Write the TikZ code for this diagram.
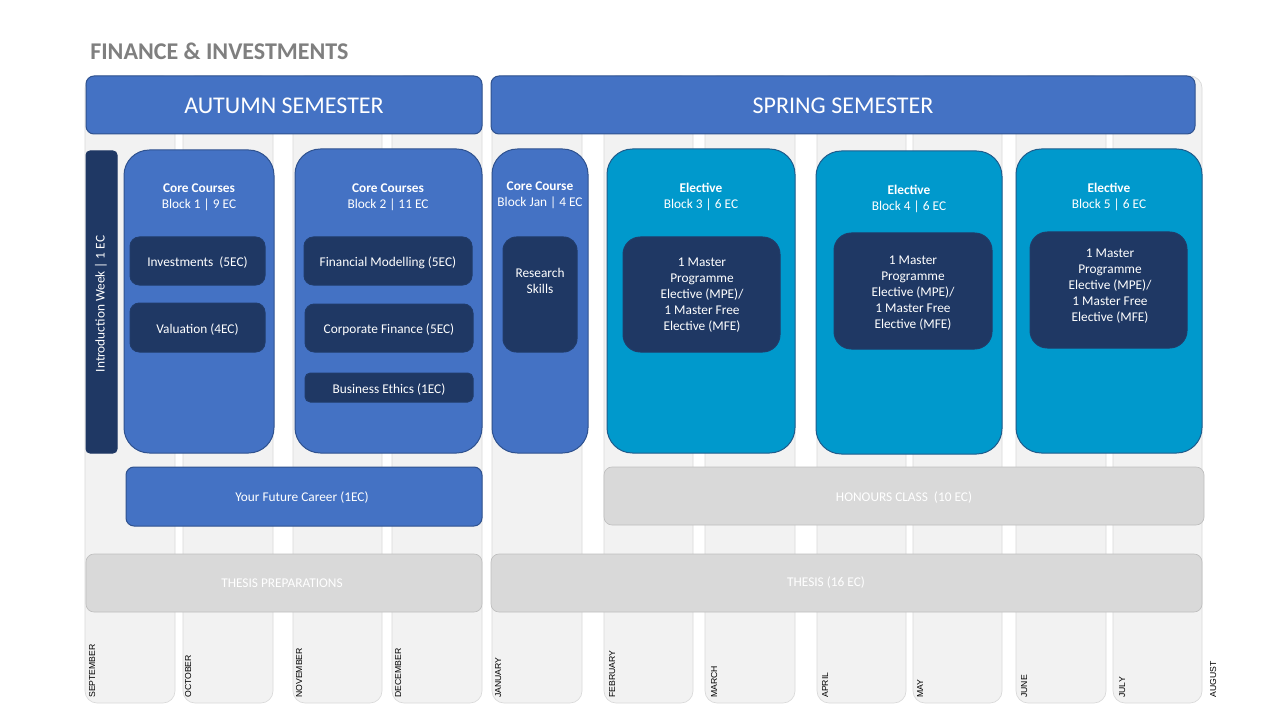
\documentclass[tikz,border=0pt]{standalone}
\usepackage{fontspec}
\setmainfont{Carlito}
\newfontfamily\monthfont{Liberation Sans}
\usetikzlibrary{fit}
\definecolor{cblue}{HTML}{4472C4}
\definecolor{cblueb}{HTML}{2F528F}
\definecolor{cnavy}{HTML}{1F3864}
\definecolor{ccyan}{HTML}{0099CC}
\definecolor{ccyanb}{HTML}{1F5C8C}
\definecolor{cgrey}{HTML}{D9D9D9}
\definecolor{cgreyb}{HTML}{BFBFBF}
\definecolor{ccol}{HTML}{F2F2F2}
\definecolor{ccolb}{HTML}{D9D9D9}
\definecolor{ctitle}{HTML}{7F7F7F}
\newcommand\mainfs{\fontsize{10}{12}\selectfont}
\tikzset{
  box/.style={inner sep=0pt, outer sep=0pt, line width=0.75pt},
  col/.style={box, fill=ccol, draw=ccolb, line width=0.5pt, rounded corners=9pt},
  hdr/.style={box, fill=cblue, draw=cblueb, rounded corners=6pt},
  hdrtxt/.style={text=white, inner sep=0pt, yshift=-0.75pt, font=\fontsize{18}{22}\selectfont},
  block/.style={box, fill=cblue, draw=cblueb, rounded corners=19pt},
  eblock/.style={box, fill=ccyan, draw=ccyanb, rounded corners=19pt},
  inbox/.style={box, fill=cnavy, draw=cnavy!85!cblueb, rounded corners=7pt},
  ebox/.style={box, fill=cnavy, draw=cnavy!85!cblueb, rounded corners=13pt},
  bar/.style={box, fill=cblue, draw=cblueb, rounded corners=6pt},
  gbar/.style={box, fill=cgrey, draw=cgreyb, line width=0.5pt, rounded corners=6pt},
  txt/.style={text=white, font=\mainfs, align=center, inner sep=0pt, yshift=-1.5pt},
  month/.style={font=\monthfont\fontsize{6.5}{8}\selectfont, rotate=90, anchor=base west, inner sep=0pt, text=black},
}
\begin{document}
\begin{tikzpicture}[x=0.75pt,y=-0.75pt]
\useasboundingbox[fill=white] (0,0) rectangle (1280,720);

% month columns
\foreach \a/\b/\n in {85/175/sep,183/273/oct,293/382/nov,392/482/dec,492/582/jan,604/693/feb,705/795/mar,817/906/apr,913/1002/may,1016/1106/jun,1113/1202/jul}{
  \node[col, fit={(\a,76)(\b,703)}] (col\n) {};
}
\foreach \x/\m/\n in {95/SEPTEMBER/sep,191/OCTOBER/oct,302/NOVEMBER/nov,401/DECEMBER/dec,501/JANUARY/jan,615/FEBRUARY/feb,717/MARCH/mar,828/APRIL/apr,923/MAY/may,1027/JUNE/jun,1125/JULY/jul,1216/AUGUST/aug}{
  \node[month] (m\n) at (\x,698) {\m};
}

% title
\node[anchor=base west, inner sep=0pt, text=ctitle, font=\bfseries\fontsize{18}{22}\selectfont] (title) at (90,60) {FINANCE \& INVESTMENTS};

% semester headers
\node[hdr, fit={(86,76)(482,134)}] (autumn) {};
\node[hdrtxt] (autumnt) at (autumn.center) {AUTUMN SEMESTER};
\node[hdr, fit={(491,76)(1195,134)}] (spring) {};
\node[hdrtxt] (springt) at (spring.center) {SPRING SEMESTER};

% introduction week
\node[box, fill=cnavy, draw=cnavy, rounded corners=3pt, fit={(86,151)(117,453)}] (intro) {};
\node[txt, yshift=1.5pt, rotate=90] (introtxt) at (101,304) {Introduction Week | 1 EC};

% blocks
\node[block, fit={(124,150)(274,453)}] (b1) {};
\node[block, fit={(295,149)(482,453)}] (b2) {};
\node[block, fit={(492,149)(588,453)}] (bj) {};
\node[eblock, fit={(607,149)(795,453)}] (b3) {};
\node[eblock, fit={(816,151)(1002,454)}] (b4) {};
\node[eblock, fit={(1016,149)(1202,453)}] (b5) {};

\node[txt] (t1) at (199,195) {\textbf{Core Courses}\\Block 1 | 9 EC};
\node[txt] (t2) at (388,195) {\textbf{Core Courses}\\Block 2 | 11 EC};
\node[txt] (tj) at (540,193) {\textbf{Core Course}\\Block Jan | 4 EC};
\node[txt] (t3) at (701,195) {\textbf{Elective}\\Block 3 | 6 EC};
\node[txt] (t4) at (909,197) {\textbf{Elective}\\Block 4 | 6 EC};
\node[txt] (t5) at (1109,195) {\textbf{Elective}\\Block 5 | 6 EC};

% inner courses
\node[inbox, fit={(130,237)(265,285)}] (i1) {};
\node[txt] (i1t) at (i1.center) {Investments~ (5EC)};
\node[inbox, fit={(130,303)(265,352)}] (i2) {};
\node[txt] (i2t) at (i2.center) {Valuation (4EC)};
\node[inbox, fit={(304,237)(472,285)}] (i3) {};
\node[txt] (i3t) at (i3.center) {Financial Modelling (5EC)};
\node[inbox, fit={(305,304)(473,352)}] (i4) {};
\node[txt] (i4t) at (i4.center) {Corporate Finance (5EC)};
\node[inbox, rounded corners=4pt, fit={(305,373)(473,402)}] (i5) {};
\node[txt] (i5t) at (i5.center) {Business Ethics (1EC)};
\node[inbox, rounded corners=10pt, fit={(503,237)(577,352)}] (ij) {};
\node[txt] (ijt) at (540,279) {Research\\Skills};
\node[ebox, fit={(623,237)(780,352)}] (e3) {};
\node[ebox, fit={(834,233)(992,349)}] (e4) {};
\node[ebox, fit={(1030,232)(1187,348)}] (e5) {};
\node[txt] (e3t) at (702,293) {1 Master\\Programme\\Elective (MPE)/\\1 Master Free\\Elective (MFE)};
\node[txt] (e4t) at (913,291) {1 Master\\Programme\\Elective (MPE)/\\1 Master Free\\Elective (MFE)};
\node[txt] (e5t) at (1110,284) {1 Master\\Programme\\Elective (MPE)/\\1 Master Free\\Elective (MFE)};

% bars
\node[bar, fit={(126,467)(482,526)}] (career) {};
\node[txt] (careert) at (302,496) {Your Future Career (1EC)};
\node[gbar, fit={(604,467)(1204,525)}] (honours) {};
\node[txt] (honourst) at (honours.center) {HONOURS CLASS~ (10 EC)};
\node[gbar, fit={(86,554)(482,612)}] (prep) {};
\node[txt] (prept) at (282,581) {THESIS PREPARATIONS};
\node[gbar, fit={(491,554)(1202,612)}] (thesis) {};
\node[txt] (thesist) at (826,581) {THESIS (16 EC)};
\end{tikzpicture}
\end{document}
